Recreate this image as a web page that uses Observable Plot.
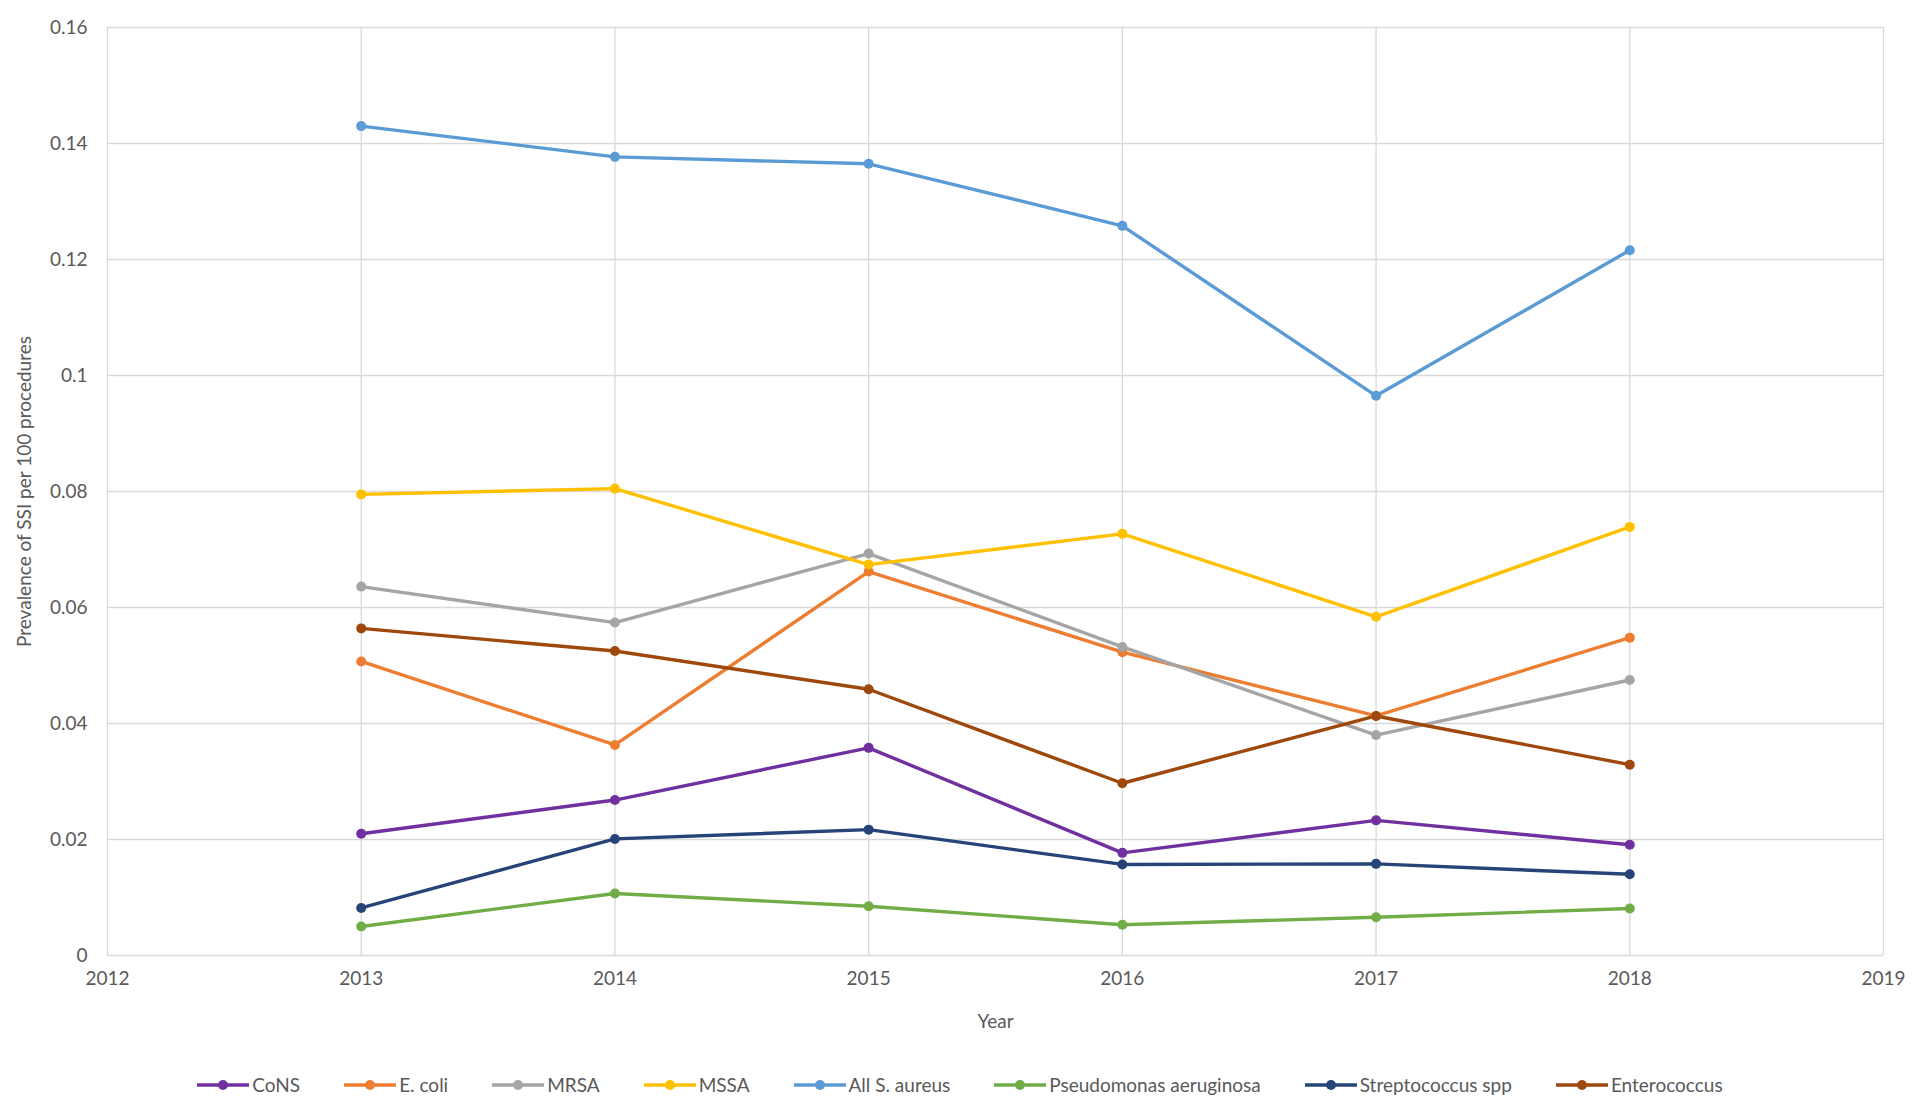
<!DOCTYPE html>
<html>
<head>
<meta charset="utf-8">
<script src="https://cdn.jsdelivr.net/npm/d3@7"></script>
<script src="https://cdn.jsdelivr.net/npm/@observablehq/plot@0.6"></script>
<style>
  html, body { margin: 0; padding: 0; background: #fff; }
  #chart { width: 1920px; }
  #legend { display: flex; justify-content: center; align-items: center; gap: 44px;
            margin-top: 28px; font-family: Lato, "Open Sans", sans-serif; font-size: 19px; color: #595959; }
  .item { display: flex; align-items: center; gap: 3px; }
</style>
</head>
<body>
<div id="chart"></div>
<div id="legend"></div>
<script>
const years = [2013, 2014, 2015, 2016, 2017, 2018];
const seriesNames = ["CoNS", "E. coli", "MRSA", "MSSA", "All S. aureus", "Pseudomonas aeruginosa", "Streptococcus spp", "Enterococcus"];
const seriesColors = ["#7030A0", "#ED7D31", "#A5A5A5", "#FFC000", "#5B9BD5", "#70AD47", "#264478", "#9E480E"];
const cons   = [0.0210, 0.0268, 0.0358, 0.0177, 0.0233, 0.0191];
const ecoli  = [0.0507, 0.0363, 0.0662, 0.0523, 0.0413, 0.0548];
const mrsa   = [0.0636, 0.0574, 0.0693, 0.0532, 0.0380, 0.0475];
const mssa   = [0.0795, 0.0805, 0.0674, 0.0727, 0.0584, 0.0739];
const allSA  = [0.1430, 0.1377, 0.1365, 0.1258, 0.0965, 0.1216];
const pseudo = [0.0050, 0.0107, 0.0085, 0.0053, 0.0066, 0.0081];
const strep  = [0.0082, 0.0201, 0.0217, 0.0157, 0.0158, 0.0140];
const entero = [0.0564, 0.0525, 0.0459, 0.0297, 0.0413, 0.0329];
const xTicks = [2012, 2013, 2014, 2015, 2016, 2017, 2018, 2019];
const yTicks = [0, 0.02, 0.04, 0.06, 0.08, 0.1, 0.12, 0.14, 0.16];
const xLabel = "Year";
const yLabel = "Prevalence of SSI per 100 procedures";

const valuesBySeries = [cons, ecoli, mrsa, mssa, allSA, pseudo, strep, entero];
const data = [];
seriesNames.forEach((name, i) => {
  years.forEach((yr, j) => data.push({series: name, year: yr, value: valuesBySeries[i][j]}));
});

const grid = "#d9d9d9";
const chart = Plot.plot({
  width: 1920,
  height: 1045,
  marginLeft: 107,
  marginRight: 37,
  marginTop: 27,
  marginBottom: 90,
  style: {fontFamily: "Lato, 'Open Sans', sans-serif", fontSize: "19px", color: "#595959", background: "#fff"},
  x: {domain: [2012, 2019]},
  y: {domain: [0, 0.16]},
  color: {domain: seriesNames, range: seriesColors},
  marks: [
    Plot.gridX(xTicks, {stroke: grid, strokeOpacity: 1, strokeWidth: 1.3}),
    Plot.gridY(yTicks, {stroke: grid, strokeOpacity: 1, strokeWidth: 1.3}),
    Plot.axisX(xTicks, {tickSize: 0, tickPadding: 16, tickFormat: d => String(d),
      label: xLabel, labelAnchor: "center", labelArrow: "none", labelOffset: 72}),
    Plot.axisY(yTicks, {tickSize: 0, tickPadding: 20, tickFormat: d => String(d),
      label: yLabel, labelAnchor: "center", labelArrow: "none", labelOffset: 90}),
    Plot.line(data, {x: "year", y: "value", z: "series", stroke: "series", strokeWidth: 3.4}),
    Plot.dot(data, {x: "year", y: "value", fill: "series", r: 5})
  ]
});
document.getElementById("chart").appendChild(chart);

const legend = d3.select("#legend");
seriesNames.forEach((name, i) => {
  const item = legend.append("div").attr("class", "item");
  const sw = item.append("svg").attr("width", 52).attr("height", 14);
  sw.append("line").attr("x1", 0).attr("x2", 52).attr("y1", 7).attr("y2", 7)
    .attr("stroke", seriesColors[i]).attr("stroke-width", 3.4);
  sw.append("circle").attr("cx", 26).attr("cy", 7).attr("r", 5).attr("fill", seriesColors[i]);
  item.append("span").text(name);
});
</script>
</body>
</html>
